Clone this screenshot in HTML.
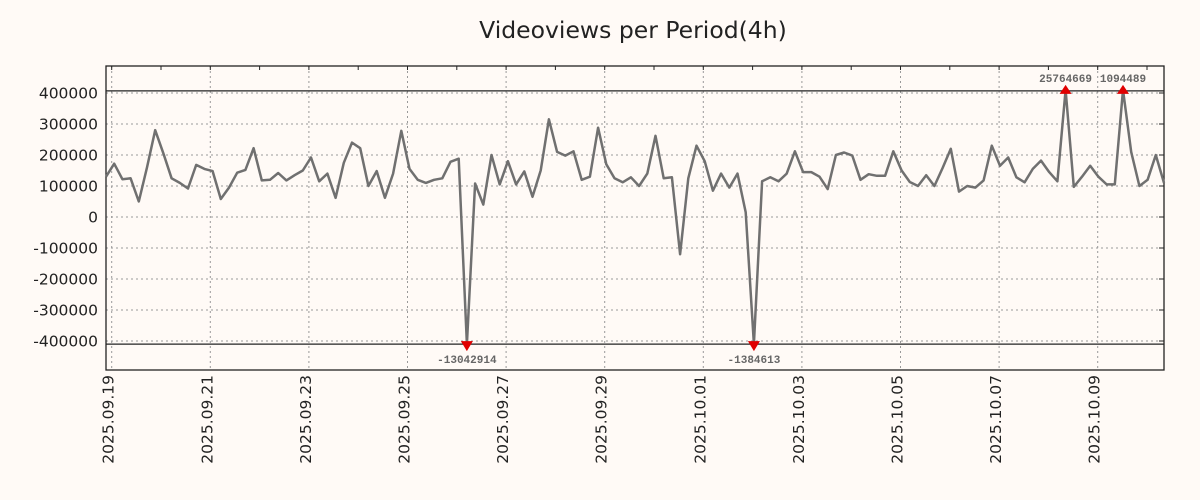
<!DOCTYPE html>
<html><head><meta charset="utf-8"><style>
body{margin:0;background:#fffaf6;}
svg{display:block;font-family:"DejaVu Sans","Liberation Sans",sans-serif;}
</style></head><body>
<svg id="c" width="1200" height="500">
<rect width="1200" height="500" fill="#fffaf6"/>
<text x="633" y="38" text-anchor="middle" font-size="23.5" fill="#222">Videoviews per Period(4h)</text>
<g id="grid"></g><g id="axes"></g><g id="series"></g><g id="marks"></g>
</svg>
<script>
const values=[130000,172000,122000,125000,50000,160000,280000,205000,125000,110000,92000,168000,155000,148000,58000,95000,143000,152000,222000,118000,120000,142000,118000,135000,150000,192000,115000,140000,62000,175000,240000,222000,100000,148000,62000,140000,278000,155000,120000,110000,120000,125000,178000,188000,-13042914,108000,40000,200000,105000,180000,105000,147000,65000,150000,315000,210000,198000,212000,120000,130000,288000,170000,125000,112000,128000,100000,140000,262000,125000,128000,-120000,125000,230000,180000,85000,140000,95000,140000,15000,-1384613,115000,128000,115000,140000,212000,145000,145000,130000,90000,200000,208000,198000,120000,138000,133000,133000,212000,150000,113000,100000,135000,100000,158000,220000,82000,100000,95000,118000,230000,165000,192000,128000,112000,155000,182000,145000,115000,25764669,97000,130000,165000,130000,105000,105000,1094489,210000,100000,120000,200000,110000];
const yTicks=[400000,300000,200000,100000,0,-100000,-200000,-300000,-400000];
const xLabels=["2025.09.19","2025.09.21","2025.09.23","2025.09.25","2025.09.27","2025.09.29","2025.10.01","2025.10.03","2025.10.05","2025.10.07","2025.10.09"];
const L=106,R=1164,T=66,B=370,clipTop=410000,clipBot=-410000;
const y=v=>217-v*0.00031;
const x=i=>L+i*(R-L)/(values.length-1);
const dayX=d=>111.7+d*49.3;
const NS="http://www.w3.org/2000/svg";
function mk(p,tag,at){const e=document.createElementNS(NS,tag);for(const k in at)e.setAttribute(k,at[k]);document.getElementById(p).appendChild(e);return e;}
let f=mk('axes','rect',{x:L,y:T,width:R-L,height:B-T,fill:'none',stroke:'#222','stroke-width':1.3});


let cl=mk('axes','line',{x1:L,x2:R,y1:y(clipTop)+1,y2:y(clipTop)+1,stroke:'#222','stroke-width':1.2});


let cl2=mk('axes','line',{x1:L,x2:R,y1:y(clipBot),y2:y(clipBot),stroke:'#222','stroke-width':1.2});


yTicks.forEach(v=>{
 const g=mk('grid','line',{x1:L,x2:R,y1:y(v),y2:y(v),stroke:'#999','stroke-dasharray':'2,3','stroke-width':1});
 
 
 const tk=mk('axes','line',{x1:R-5,x2:R,y1:y(v),y2:y(v),stroke:'#222'});
 
 
 const t=mk('axes','text',{x:98,y:y(v)+5.5,'text-anchor':'end','font-size':15.5,fill:'#222'});
 t.textContent=v;
 
 
});
for(let d=0;d<22;d++){
 const tk=mk('axes','line',{x1:dayX(d),x2:dayX(d),y1:T,y2:T+4,stroke:'#222'});
 
 
}
xLabels.forEach((s,i)=>{
 const xx=dayX(i*2);
 const g=mk('grid','line',{x1:xx,x2:xx,y1:T,y2:B,stroke:'#999','stroke-dasharray':'2,3','stroke-width':1});
 
 
 const t=mk('axes','text',{x:0,y:0,'text-anchor':'end','font-size':15.5,fill:'#222',transform:`translate(${xx+2},375) rotate(-90)`});
 t.textContent=s;
 
 
});
const pts=values.map((v,i)=>x(i).toFixed(1)+','+y(Math.max(clipBot,Math.min(clipTop,v))).toFixed(1)).join(' ');
const pl=mk('series','polyline',{points:pts,fill:'none',stroke:'#707070','stroke-width':2.5,'stroke-linejoin':'round'});


values.forEach((v,i)=>{
 if(v>clipTop||v<clipBot){
  const up=v>clipTop, yy=y(up?clipTop:clipBot), xx=x(i);
  const tri=mk('marks','polygon',{points:up?`${xx-6},${yy+4} ${xx+6},${yy+4} ${xx},${yy-5}`:`${xx-6},${yy-3} ${xx+6},${yy-3} ${xx},${yy+7}`,fill:'#e00000'});
  
  
  const t=mk('marks','text',{x:xx,y:up?yy-8:yy+19,'text-anchor':'middle','font-size':11,'font-weight':'bold',fill:'#666','font-family':'"Liberation Mono",monospace'});
  t.textContent=v;
  
  
 }
});
</script>
</body></html>
